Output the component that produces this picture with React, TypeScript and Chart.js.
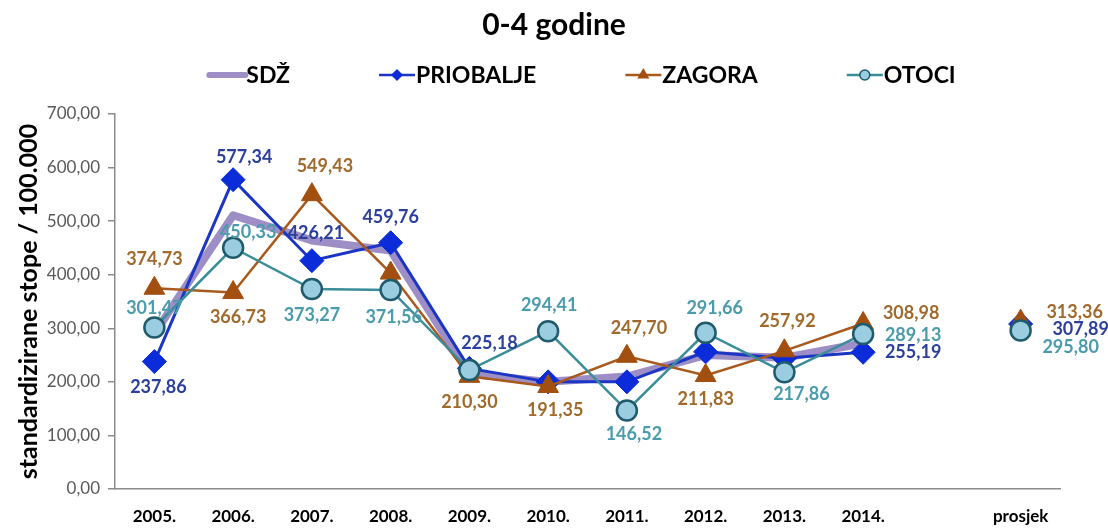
import React, { useEffect, useRef } from 'react';
import { Chart, registerables } from 'chart.js';

Chart.register(...registerables);

// ---------- data ----------
const categories = ['2005.', '2006.', '2007.', '2008.', '2009.', '2010.', '2011.', '2012.', '2013.', '2014.', '', 'prosjek'];
const seriesNames = ['SDŽ', 'PRIOBALJE', 'ZAGORA', 'OTOCI'];
const sdzValues = [290, 511, 464, 445, 215, 200, 210, 250, 245, 272, null, null];
const priobaljeValues = [237.86, 577.34, 426.21, 459.76, 225.18, 200, 200, 256, 244, 255.19, null, 307.89];
const zagoraValues = [374.73, 366.73, 549.43, 403, 210.3, 191.35, 247.7, 211.83, 257.92, 308.98, null, 313.36];
const otociValues = [301.47, 450.33, 373.27, 371.56, 222, 294.41, 146.52, 291.66, 217.86, 289.13, null, 295.8];
const yMin = 0;
const yMax = 700;
const yStep = 100;
const titleText = '0-4 godine';
const yTitleText = 'standardizirane stope / 100.000';

// ---------- label placement (offset of label centre from its point), null = no label ----------
const priobaljeLabelOffsets = [[4, 26], [11, -23], [4, -27], [0, -26], [20, -25], null, null, null, null, [50, 0], null, [60, 5]];
const zagoraLabelOffsets = [[0, -29], [5, 25], [13, -28], null, [0, 26], [7, 24], [12, -28], [0, 24], [3, -30], [48, -10], null, [54, -9]];
const otociLabelOffsets = [[0, -19], [15, -16], [0, 26], [3, 27], null, [1, -26], [7, 24], [9, -25], [17, 22], [50, 1], null, [50, 17]];

// ---------- styles ----------
const FONT = 'Lato';
const SDZ_COLOR = '#9D8EC6';
const PRIO_LINE = '#1B35C4';
const PRIO_MARK = '#0B2CD8';
const PRIO_LABEL = '#2B3F9E';
const ZAG_LINE = '#A9591C';
const ZAG_MARK = '#A24F10';
const ZAG_LABEL = '#A06A2C';
const OTO_LINE = '#3A8D99';
const OTO_FILL = '#9BCDE0';
const OTO_BORDER = '#1F5B6C';
const OTO_LABEL = '#4A9BAC';

const fmt = (v: number) => v.toFixed(2).replace('.', ',');

function drawMarker(ctx: CanvasRenderingContext2D, style: string, x: number, y: number, r: number, fill: string, stroke: string, bw: number) {
  ctx.beginPath();
  if (style === 'rectRot') {
    ctx.moveTo(x, y - r);
    ctx.lineTo(x + r, y);
    ctx.lineTo(x, y + r);
    ctx.lineTo(x - r, y);
    ctx.closePath();
  } else if (style === 'triangle') {
    ctx.moveTo(x, y - r);
    ctx.lineTo(x + r * 0.866, y + r * 0.5);
    ctx.lineTo(x - r * 0.866, y + r * 0.5);
    ctx.closePath();
  } else {
    ctx.arc(x, y, r, 0, Math.PI * 2);
  }
  ctx.fillStyle = fill;
  ctx.fill();
  if (bw > 0) {
    ctx.lineWidth = bw;
    ctx.strokeStyle = stroke;
    ctx.stroke();
  }
}

const legendPlugin = {
  id: 'lineMarkerLegend',
  afterDraw(chart: any) {
    const ctx: CanvasRenderingContext2D = chart.ctx;
    const swatch = 38;
    const gap = 88;
    const cx = 582;
    const cy = 75;
    ctx.save();
    ctx.font = `bold 23px ${FONT}`;
    const items = chart.data.datasets.map((ds: any) => ({ ds, w: ctx.measureText(ds.label).width }));
    const total = items.reduce((s: number, it: any) => s + swatch + it.w, 0) + gap * (items.length - 1);
    let x = cx - total / 2;
    items.forEach(({ ds, w }: any) => {
      ctx.beginPath();
      ctx.moveTo(x + 1, cy);
      ctx.lineTo(x + swatch - 1, cy);
      ctx.strokeStyle = ds.borderColor;
      ctx.lineWidth = ds.pointRadius === 0 ? 6 : 2.5;
      ctx.lineCap = ds.pointRadius === 0 ? 'round' : 'butt';
      ctx.stroke();
      if (ds.pointRadius > 0) {
        const r = ds.pointStyle === 'circle' ? 5 : ds.pointStyle === 'triangle' ? 7 : 6;
        drawMarker(ctx, ds.pointStyle, x + swatch / 2, cy, r, ds.pointBackgroundColor, ds.pointBorderColor, ds.pointStyle === 'circle' ? 1.5 : 0);
      }
      ctx.fillStyle = '#000';
      ctx.textAlign = 'left';
      ctx.textBaseline = 'middle';
      ctx.fillText(ds.label, x + swatch, cy + 1);
      x += swatch + w + gap;
    });
    ctx.restore();
  },
};

const labelSets = [
  { index: 1, offsets: priobaljeLabelOffsets, color: PRIO_LABEL },
  { index: 2, offsets: zagoraLabelOffsets, color: ZAG_LABEL },
  { index: 3, offsets: otociLabelOffsets, color: OTO_LABEL },
];

const valueLabelPlugin = {
  id: 'valueLabels',
  afterDatasetsDraw(chart: any) {
    const ctx: CanvasRenderingContext2D = chart.ctx;
    ctx.save();
    ctx.font = `bold 18px ${FONT}`;
    ctx.textAlign = 'center';
    ctx.textBaseline = 'middle';
    labelSets.forEach(({ index, offsets, color }) => {
      const meta = chart.getDatasetMeta(index);
      const values = chart.data.datasets[index].data;
      offsets.forEach((off, i) => {
        const v = values[i];
        if (!off || v == null) return;
        const pt = meta.data[i];
        ctx.fillStyle = color;
        ctx.fillText(fmt(v), pt.x + off[0], pt.y + off[1]);
      });
    });
    ctx.restore();
  },
};

export default function App() {
  const ref = useRef<HTMLCanvasElement | null>(null);

  useEffect(() => {
    if (!ref.current) return;
    const chart = new Chart(ref.current, {
      type: 'line',
      data: {
        labels: categories,
        datasets: [
          {
            label: seriesNames[0],
            data: sdzValues,
            borderColor: SDZ_COLOR,
            backgroundColor: SDZ_COLOR,
            borderWidth: 8,
            borderJoinStyle: 'round',
            borderCapStyle: 'round',
            pointRadius: 0,
            pointStyle: 'line',
            tension: 0,
            order: 4,
          },
          {
            label: seriesNames[1],
            data: priobaljeValues,
            borderColor: PRIO_LINE,
            backgroundColor: PRIO_MARK,
            borderWidth: 3,
            pointStyle: 'rectRot',
            pointRadius: 12,
            pointBackgroundColor: PRIO_MARK,
            pointBorderColor: PRIO_MARK,
            pointBorderWidth: 1,
            tension: 0,
            order: 3,
          },
          {
            label: seriesNames[2],
            data: zagoraValues,
            borderColor: ZAG_LINE,
            backgroundColor: ZAG_MARK,
            borderWidth: 2.5,
            pointStyle: 'triangle',
            pointRadius: 12,
            pointBackgroundColor: ZAG_MARK,
            pointBorderColor: ZAG_MARK,
            pointBorderWidth: 1,
            tension: 0,
            order: 2,
          },
          {
            label: seriesNames[3],
            data: otociValues,
            borderColor: OTO_LINE,
            backgroundColor: OTO_FILL,
            borderWidth: 2.5,
            pointStyle: 'circle',
            pointRadius: 10,
            pointBackgroundColor: OTO_FILL,
            pointBorderColor: OTO_BORDER,
            pointBorderWidth: 2.5,
            tension: 0,
            order: 1,
          },
        ],
      },
      options: {
        animation: false,
        responsive: false,
        events: [],
        layout: { padding: 0 },
        plugins: {
          legend: { display: false },
          tooltip: { enabled: false },
          title: {
            display: true,
            text: titleText,
            color: '#000',
            font: { family: FONT, size: 30, weight: 'bold' },
            padding: { top: 7, bottom: 71 },
          },
        },
        scales: {
          x: {
            offset: true,
            grid: { display: false },
            border: { display: true, color: '#8C8C8C', width: 1.5 },
            ticks: {
              color: '#000',
              font: { family: FONT, size: 17, weight: 'bold' },
              padding: 9,
              autoSkip: false,
              maxRotation: 0,
            },
            afterFit: (s: any) => {
              s.height = 39;
            },
          },
          y: {
            min: yMin,
            max: yMax,
            border: { display: true, color: '#8C8C8C', width: 1.5 },
            grid: { drawOnChartArea: false, drawTicks: true, tickLength: 7, color: '#8C8C8C', lineWidth: 1.5 },
            ticks: {
              stepSize: yStep,
              color: '#595959',
              font: { family: FONT, size: 17 },
              padding: 8,
              callback: (v: any) => fmt(Number(v)),
            },
            title: {
              display: true,
              text: yTitleText,
              color: '#000',
              font: { family: FONT, size: 25, weight: 'bold' },
              padding: { top: 14, bottom: 0 },
            },
            afterFit: (s: any) => {
              s.width = 115;
            },
          },
          spacer: {
            type: 'linear',
            position: 'right',
            display: true,
            grid: { display: false },
            border: { display: false },
            ticks: { display: false },
            afterFit: (s: any) => {
              s.width = 48;
            },
          },
        },
      },
      plugins: [legendPlugin, valueLabelPlugin],
    } as any);
    return () => chart.destroy();
  }, []);

  return (
    <div style={{ position: 'fixed', left: 0, top: 0, width: 1108, height: 528, background: '#fff' }}>
      <canvas ref={ref} width={1108} height={528} style={{ display: 'block', width: 1108, height: 528 }} />
    </div>
  );
}
